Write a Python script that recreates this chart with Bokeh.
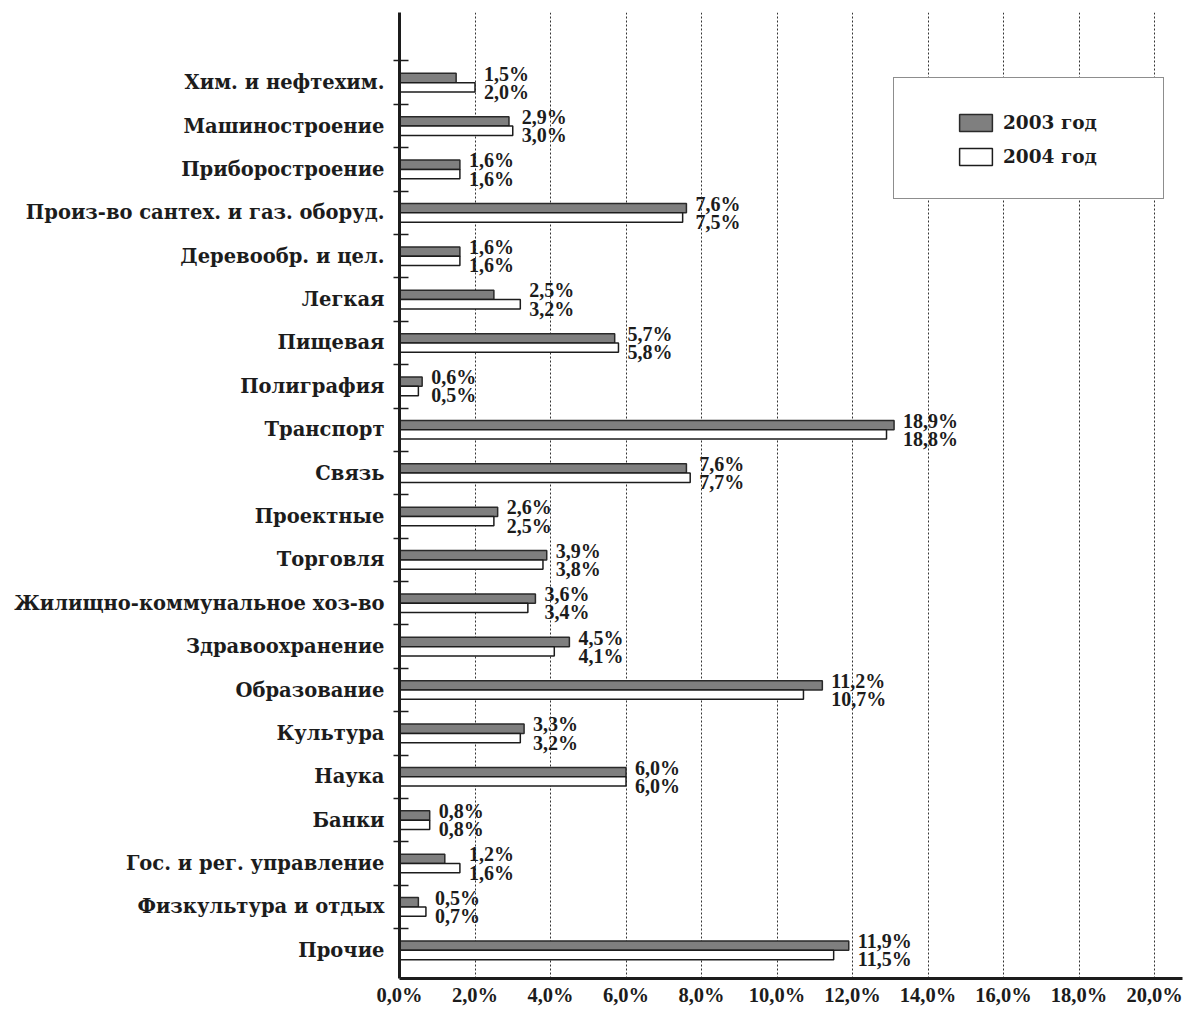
from bokeh.plotting import figure
from bokeh.models import (ColumnDataSource, FixedTicker, Legend, LegendItem, Range1d)
from bokeh.core.properties import value
from bokeh.embed import file_html
from bokeh.resources import INLINE

# ---------------- data ----------------
categories = [
    "Хим. и нефтехим.", "Машиностроение", "Приборостроение",
    "Произ-во сантех. и газ. оборуд.", "Деревообр. и цел.", "Легкая",
    "Пищевая", "Полиграфия", "Транспорт", "Связь", "Проектные", "Торговля",
    "Жилищно-коммунальное хоз-во", "Здравоохранение", "Образование",
    "Культура", "Наука", "Банки", "Гос. и рег. управление",
    "Физкультура и отдых", "Прочие",
]
share_2003 = [1.5, 2.9, 1.6, 7.6, 1.6, 2.5, 5.7, 0.6, 18.9, 7.6, 2.6, 3.9,
              3.6, 4.5, 11.2, 3.3, 6.0, 0.8, 1.2, 0.5, 11.9]
share_2004 = [2.0, 3.0, 1.6, 7.5, 1.6, 3.2, 5.8, 0.5, 18.8, 7.7, 2.5, 3.8,
              3.4, 4.1, 10.7, 3.2, 6.0, 0.8, 1.6, 0.7, 11.5]
# the source draws the "Транспорт" bars cut short (broken bars): lengths
broken_bars = {"Транспорт": (13.1, 12.9)}
series_names = ["2003 год", "2004 год"]
x_ticks = [0, 2, 4, 6, 8, 10, 12, 14, 16, 18, 20]

# ---------------- derived ----------------
n = len(categories)
pos = [n - 1 - i for i in range(n)]
shown_2003 = [broken_bars.get(c, (a, b))[0] for c, a, b in zip(categories, share_2003, share_2004)]
shown_2004 = [broken_bars.get(c, (a, b))[1] for c, a, b in zip(categories, share_2003, share_2004)]
fmt = lambda v: f"{v:.1f}".replace(".", ",") + "%"

BAR_H = 0.215
LBL_DY = 0.21

src = ColumnDataSource(dict(
    cat=categories,
    y03=[p_ + BAR_H / 2 for p_ in pos],
    y04=[p_ - BAR_H / 2 for p_ in pos],
    r03=shown_2003,
    r04=shown_2004,
    lx=[max(a, b) for a, b in zip(shown_2003, shown_2004)],
    ly03=[p_ + LBL_DY for p_ in pos],
    ly04=[p_ - LBL_DY for p_ in pos],
    t03=[fmt(v) for v in share_2003],
    t04=[fmt(v) for v in share_2004],
))

p = figure(width=1186, height=1008, output_backend="svg", toolbar_location=None,
           x_range=Range1d(0, 20.74), y_range=Range1d(-0.65, n - 1 + 1.618))
p.min_border_top = 12
p.min_border_left = 399
p.min_border_right = 4
p.outline_line_color = None
p.background_fill_color = "white"
p.border_fill_color = "white"

INK = "#1c1c1c"

r03 = p.hbar(y="y03", left=0, right="r03", height=BAR_H, source=src,
             fill_color="#7f7f7f", line_color="#2a2a2a", line_width=1.5)
r04 = p.hbar(y="y04", left=0, right="r04", height=BAR_H, source=src,
             fill_color="white", line_color="#1c1c1c", line_width=1.5)

for col_y, col_t in (("ly03", "t03"), ("ly04", "t04")):
    p.text(x="lx", y=col_y, text=col_t, source=src, x_offset=9,
           text_align="left", text_baseline="middle",
           text_font=value("Liberation Serif"), text_font_style="bold",
           text_font_size="20px", text_color=INK)

# x axis
p.xaxis.ticker = FixedTicker(ticks=x_ticks)
p.xaxis.major_label_overrides = {t: fmt(t) for t in x_ticks}
p.xaxis.major_label_text_font = "Liberation Serif"
p.xaxis.major_label_text_font_style = "bold"
p.xaxis.major_label_text_font_size = "20.5px"
p.xaxis.major_label_text_color = INK
p.xaxis.major_label_standoff = 5
p.xaxis.major_tick_line_color = None
p.xaxis.major_tick_out = 0
p.xaxis.major_tick_in = 0
p.xaxis.minor_tick_line_color = None
p.xaxis.minor_tick_out = 0
p.xaxis.axis_line_width = 3
p.xaxis.axis_line_color = INK

# y axis: labels at category centres, tick marks at category boundaries
p.yaxis.ticker = FixedTicker(ticks=pos, minor_ticks=[k + 0.5 for k in range(n)])
p.yaxis.major_label_overrides = {pp: c for pp, c in zip(pos, categories)}
p.yaxis.major_label_text_font = "DejaVu Serif"
p.yaxis.major_label_text_font_style = "bold"
p.yaxis.major_label_text_font_size = "19.5px"
p.yaxis.major_label_text_color = INK
p.yaxis.major_label_standoff = 9
p.yaxis.major_tick_line_color = None
p.yaxis.major_tick_out = 0
p.yaxis.major_tick_in = 0
p.yaxis.minor_tick_line_color = INK
p.yaxis.minor_tick_line_width = 1.5
p.yaxis.minor_tick_out = 6
p.yaxis.minor_tick_in = 9
p.yaxis.axis_line_width = 3
p.yaxis.axis_line_color = INK

# grid
p.ygrid.grid_line_color = None
p.xgrid.ticker = FixedTicker(ticks=x_ticks[1:])
p.xgrid.grid_line_color = "#333333"
p.xgrid.grid_line_dash = "2 2"
p.xgrid.grid_line_width = 1

# legend frame (empty item only sizes the box)
dummy = p.hbar(y=[], left=[], right=[], height=0.1, fill_alpha=0, line_alpha=0)
frame_legend = Legend(items=[LegendItem(label=" ", renderers=[dummy])],
                      location=(494, 779), padding=0, spacing=0, margin=0,
                      glyph_width=1, glyph_height=1, label_standoff=0,
                      label_width=268, label_height=120,
                      border_line_color=INK, border_line_width=1.5,
                      background_fill_color="white", background_fill_alpha=1,
                      label_text_font_size="1px")
p.add_layout(frame_legend, "center")

legend = Legend(items=[LegendItem(label=series_names[0], renderers=[r03]),
                       LegendItem(label=series_names[1], renderers=[r04])],
                location=(556, 811), padding=0, margin=0, spacing=13,
                glyph_width=41, glyph_height=21, label_standoff=7,
                label_height=21,
                border_line_color=None, background_fill_alpha=0,
                label_text_font="DejaVu Serif", label_text_font_style="bold",
                label_text_font_size="18.5px", label_text_color=INK)
p.add_layout(legend, "center")

open("out.html", "w").write(file_html(p, INLINE))
